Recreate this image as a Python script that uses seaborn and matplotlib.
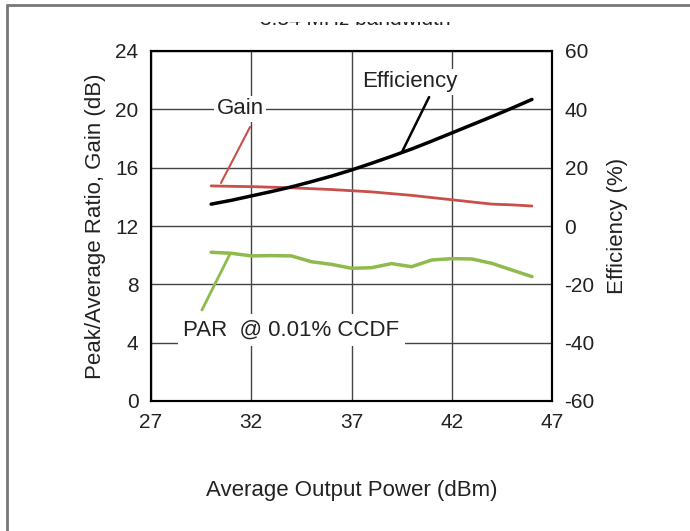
import matplotlib.pyplot as plt
import matplotlib.patches as mpatches
import numpy as np
import pandas as pd
import seaborn as sns

# data
gain_x = [30, 31, 32, 33, 34, 35, 36, 37, 38, 39, 40, 41, 42, 43, 44, 45, 46]
gain_y = [14.75, 14.72, 14.7, 14.66, 14.62, 14.56, 14.5, 14.42, 14.34, 14.22, 14.1, 13.95, 13.8, 13.65, 13.5, 13.45, 13.37]

eff_x = [30, 31, 32, 33, 34, 35, 36, 37, 38, 39, 40, 41, 42, 43, 44, 45, 46]
eff_y = [7.5, 8.8, 10.3, 11.8, 13.4, 15.2, 17.1, 19.2, 21.5, 23.9, 26.4, 29.1, 31.9, 34.7, 37.5, 40.4, 43.4]

par_x = [30, 31, 32, 33, 34, 35, 36, 37, 38, 39, 40, 41, 42, 43, 44, 45, 46]
par_y = [10.2, 10.13, 9.95, 9.97, 9.95, 9.55, 9.37, 9.1, 9.14, 9.42, 9.21, 9.67, 9.76, 9.74, 9.44, 8.98, 8.53]

x_ticks = [27, 32, 37, 42, 47]
left_ticks = [0, 4, 8, 12, 16, 20, 24]
right_ticks = [-60, -40, -20, 0, 20, 40, 60]

df_gain = pd.DataFrame({'x': gain_x, 'y': gain_y})
df_eff = pd.DataFrame({'x': eff_x, 'y': eff_y})
df_par = pd.DataFrame({'x': par_x, 'y': par_y})

sns.set_style('white')
plt.rcParams['font.family'] = ['Liberation Sans', 'DejaVu Sans']
plt.rcParams['axes.unicode_minus'] = False

fig = plt.figure(figsize=(6.9, 5.31), dpi=100)
ax = fig.add_axes([151 / 690, 1 - 401 / 531, 401 / 690, 350 / 531])
ax2 = ax.twinx()

red = '#c8504a'
green = '#8fba4c'
txt = '#222222'

sns.lineplot(data=df_gain, x='x', y='y', ax=ax, color=red, lw=2)
sns.lineplot(data=df_par, x='x', y='y', ax=ax, color=green, lw=2.5)
sns.lineplot(data=df_eff, x='x', y='y', ax=ax2, color='black', lw=2.5)

ax.set_xlim(27, 47)
ax.set_ylim(0, 24)
ax2.set_ylim(-60, 60)
ax.set_xticks(x_ticks)
ax.set_yticks(left_ticks)
ax2.set_yticks(right_ticks)
ax.grid(True, color='#444444', lw=1)
ax.set_axisbelow(True)

for a in (ax, ax2):
    a.tick_params(length=0, labelsize=15, colors=txt, pad=9)
    for s in a.spines.values():
        s.set_color('black')
        s.set_linewidth(1.5)

ax.set_xlabel('Average Output Power (dBm)', fontsize=16, labelpad=34, color=txt)
ax.set_ylabel('Peak/Average Ratio, Gain (dB)', fontsize=16, labelpad=7, color=txt)
ax2.set_ylabel('Efficiency (%)', fontsize=16, labelpad=9, color=txt)

# labels with leader lines (white boxes break the grid like in the source)
box = dict(fc='white', ec='none', pad=2)
ax.text(31.44, 20.03, 'Gain', fontsize=16, color=txt, ha='center', va='center', bbox=box)
ax.annotate('', xy=(30.49, 14.95), xytext=(31.94, 18.79),
            arrowprops=dict(arrowstyle='-', color=red, lw=1.5, shrinkA=0, shrinkB=0))

ax2.text(39.92, 49.4, 'Efficiency', fontsize=16, color=txt, ha='center', va='center', bbox=box)
ax2.annotate('', xy=(39.52, 25.4), xytext=(40.87, 44.2),
             arrowprops=dict(arrowstyle='-', color='black', lw=1.8, shrinkA=0, shrinkB=0))

ax.text(28.6, 4.87, 'PAR  @ 0.01% CCDF', fontsize=16, color=txt, ha='left', va='center',
        bbox=dict(fc='white', ec='none', pad=4))
ax.annotate('', xy=(30.94, 10.08), xytext=(29.54, 6.24),
            arrowprops=dict(arrowstyle='-', color=green, lw=2, shrinkA=0, shrinkB=0))

# title that is cut off at the top of the figure
fig.text(355 / 690, 1 - 25 / 531, '3.84 MHz bandwidth', fontsize=15, ha='center', va='baseline', color=txt)
fig.patches.append(mpatches.Rectangle((0, 1 - 21.5 / 531), 1, 21.5 / 531, transform=fig.transFigure,
                                      fc='white', ec='none', zorder=10))
fig.add_artist(plt.Line2D([7 / 690, 1], [1 - 5 / 531, 1 - 5 / 531], transform=fig.transFigure,
                          color='#777777', lw=2, zorder=11))
fig.add_artist(plt.Line2D([7 / 690, 7 / 690], [0, 1 - 5 / 531], transform=fig.transFigure,
                          color='#777777', lw=2, zorder=11))

fig.savefig('out.png', dpi=100)
